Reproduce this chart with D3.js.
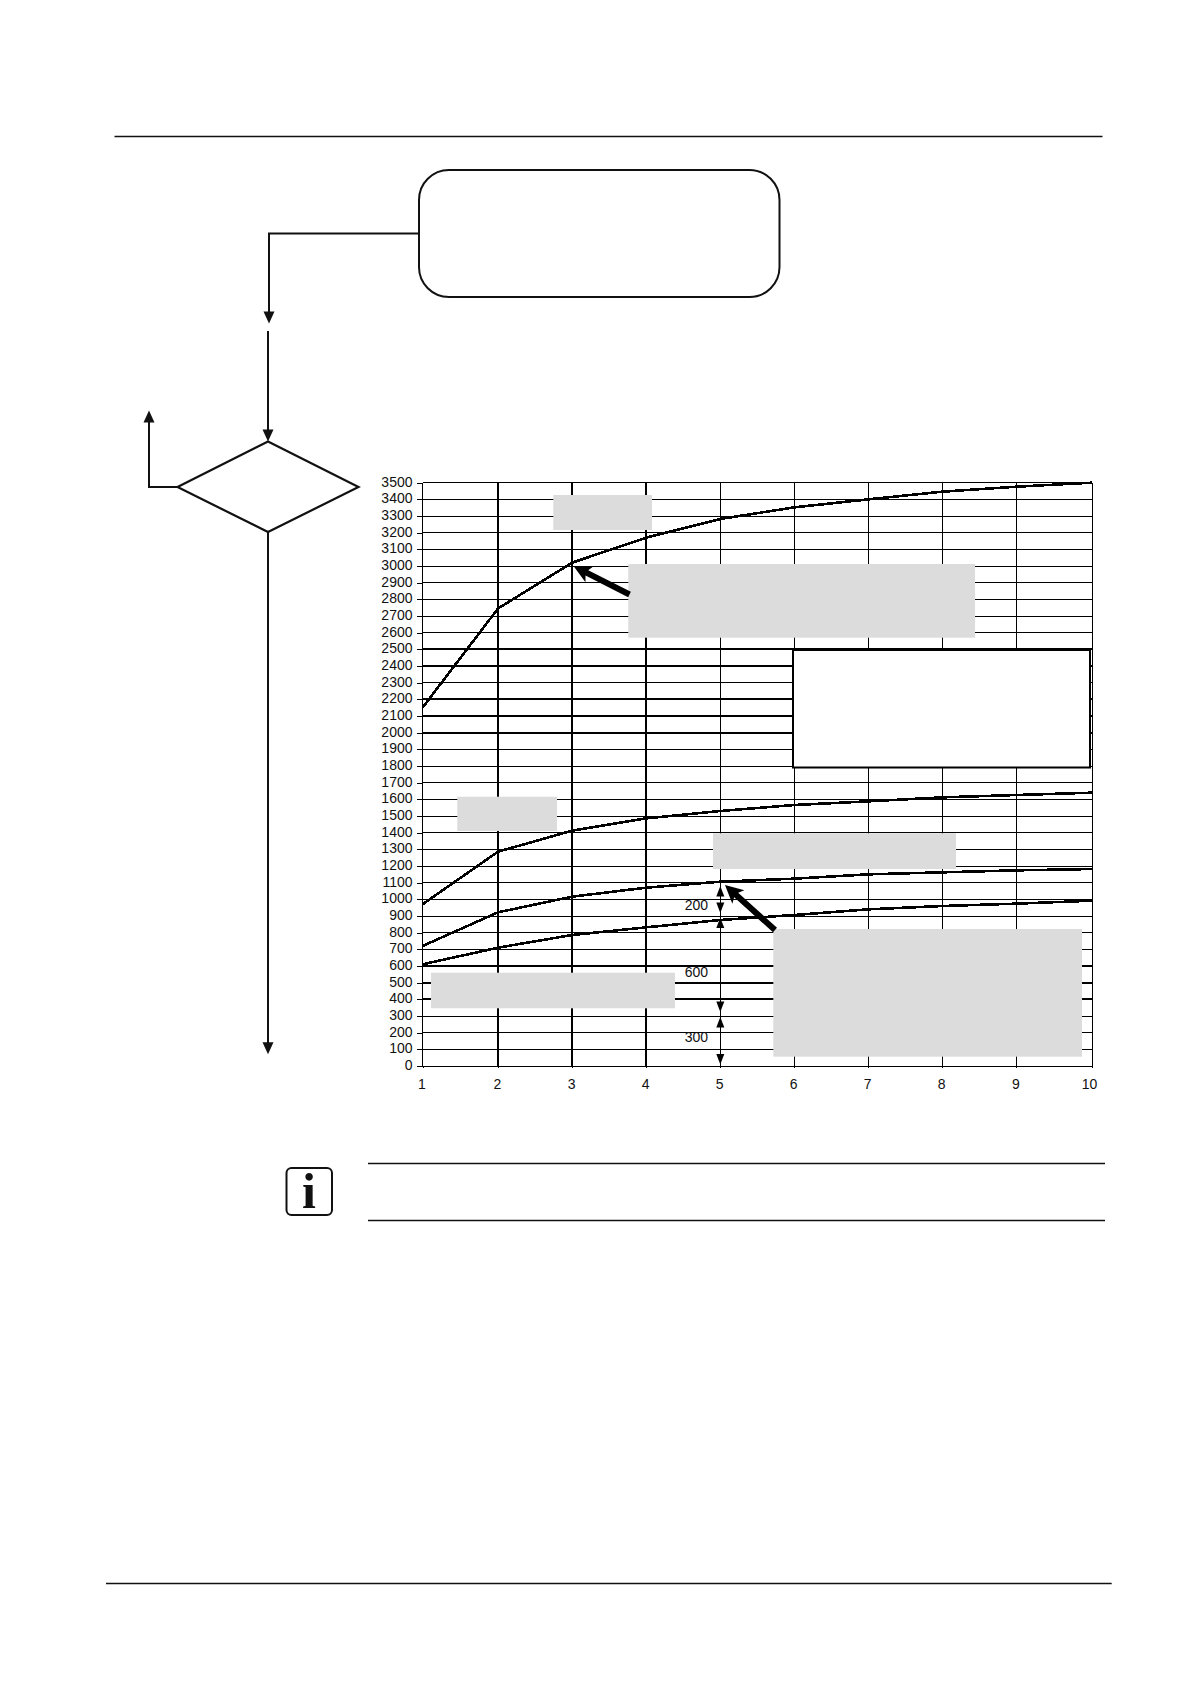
<!DOCTYPE html>
<html>
<head>
<meta charset="utf-8">
<script src="https://cdn.jsdelivr.net/npm/d3@7"></script>
<style>
  html, body { margin: 0; padding: 0; background: #fff; }
  svg { display: block; }
  text { font-family: "Liberation Sans", Arial, sans-serif; fill: #111; }
</style>
</head>
<body>
<div id="chart"></div>
<script>
// Values
const xValues = [1, 2, 3, 4, 5, 6, 7, 8, 9, 10];
const curveA = [2150, 2745, 3020, 3170, 3282, 3352, 3400, 3446, 3476, 3500];
const curveB = [970, 1286, 1412, 1486, 1530, 1566, 1588, 1612, 1626, 1640];
const curveC = [720, 922, 1016, 1070, 1106, 1124, 1150, 1162, 1174, 1182];
const curveD = [610, 710, 786, 832, 876, 906, 940, 960, 974, 992];
const curves = [curveA, curveB, curveC, curveD];

const yTicks = d3.range(0, 3600, 100);
const heavyY = [2500, 2400, 2200, 2100, 2000, 600, 500, 400];
const heavyX = [2, 3, 4];

const spanLabels = ["200", "600", "300"];
const spanLabelY = [956, 556, 168];

const width = 1190;
const height = 1684;
const plot = { left: 422.5, right: 1092, top: 482.7, bottom: 1066 };
const ink = "#111";

const svg = d3.select("#chart")
    .append("svg")
    .attr("width", width)
    .attr("height", height);

// piecewise because the first and last columns are a little wider in the source
const x = d3.scaleLinear()
    .domain([1, 2, 9, 10])
    .range([plot.left, 498, 1016.3, plot.right]);

const y = d3.scaleLinear()
    .domain([0, 3500])
    .range([plot.bottom, plot.top]);

// page rules
const rules = [
    [114.5, 136.5, 1102.5, 136.5],
    [368, 1163.5, 1105, 1163.5],
    [368, 1220.5, 1105, 1220.5],
    [106, 1583.5, 1111.7, 1583.5]
];
svg.append("g").selectAll("line")
    .data(rules)
    .enter().append("line")
    .attr("x1", d => d[0])
    .attr("y1", d => d[1])
    .attr("x2", d => d[2])
    .attr("y2", d => d[3])
    .attr("stroke", ink)
    .attr("stroke-width", 1.3);

// flow chart
const flow = svg.append("g");

flow.append("rect")
    .attr("x", 419)
    .attr("y", 170)
    .attr("width", 360.5)
    .attr("height", 127)
    .attr("rx", 30)
    .attr("fill", "#fff")
    .attr("stroke", ink)
    .attr("stroke-width", 2);

flow.append("path")
    .attr("d", "M268,441.5L358.5,487L268,532L177.5,487Z")
    .attr("fill", "#fff")
    .attr("stroke", ink)
    .attr("stroke-width", 2.2);

const flowLines = [
    "M419,233.5H269V315",
    "M268,331V432",
    "M177.5,487H149V420",
    "M268,532V1045"
];
flow.selectAll(".flow-line")
    .data(flowLines)
    .enter().append("path")
    .attr("class", "flow-line")
    .attr("d", d => d)
    .attr("fill", "none")
    .attr("stroke", ink)
    .attr("stroke-width", 2);

const flowHeads = [
    [269, 323.5, 180],
    [268, 441.5, 180],
    [149, 410.5, 0],
    [268, 1054.3, 180]
];
flow.selectAll(".flow-head")
    .data(flowHeads)
    .enter().append("path")
    .attr("class", "flow-head")
    .attr("d", "M0,0L5.5,12L-5.5,12Z")
    .attr("transform", d => `translate(${d[0]},${d[1]}) rotate(${d[2]})`)
    .attr("fill", ink);

// grid
const grid = svg.append("g").attr("shape-rendering", "crispEdges");

grid.selectAll(".grid-y")
    .data(yTicks)
    .enter().append("line")
    .attr("class", "grid-y")
    .attr("x1", plot.left)
    .attr("x2", plot.right)
    .attr("y1", d => y(d))
    .attr("y2", d => y(d))
    .attr("stroke", "#000")
    .attr("stroke-width", d => heavyY.includes(d) ? 2 : 1);

grid.selectAll(".grid-x")
    .data(xValues)
    .enter().append("line")
    .attr("class", "grid-x")
    .attr("x1", d => x(d))
    .attr("x2", d => x(d))
    .attr("y1", plot.top)
    .attr("y2", plot.bottom)
    .attr("stroke", "#000")
    .attr("stroke-width", d => heavyX.includes(d) ? 2 : 1);

// axes
const yAxis = d3.axisLeft(y)
    .tickValues(yTicks)
    .tickFormat(d => d)
    .tickSize(6)
    .tickPadding(4);

const xAxis = d3.axisBottom(x)
    .tickValues(xValues)
    .tickFormat(d => d)
    .tickSize(2)
    .tickPadding(11);

const gy = svg.append("g")
    .attr("transform", `translate(${plot.left},0)`)
    .call(yAxis);
const gx = svg.append("g")
    .attr("transform", `translate(0,${plot.bottom})`)
    .call(xAxis);

[gy, gx].forEach(g => {
    g.select(".domain").remove();
    g.selectAll("line").attr("stroke", "#000").attr("shape-rendering", "crispEdges");
    g.selectAll("text")
        .attr("font-size", 14)
        .attr("font-family", "Liberation Sans")
        .attr("fill", "#222");
});
gy.selectAll("text").attr("dy", "0.24em");
gx.selectAll("text").attr("dx", d => d === 10 ? -3 : -1);

// curves
const line = d3.line()
    .x((d, i) => x(xValues[i]))
    .y(d => y(d));

svg.append("g").selectAll("path")
    .data(curves)
    .enter().append("path")
    .attr("d", line)
    .attr("fill", "none")
    .attr("stroke", "#000")
    .attr("stroke-width", 2.6)
    .attr("shape-rendering", "crispEdges");

// covered call-outs
const greyBoxes = [
    [553.3, 495, 98.7, 35],
    [628.3, 564, 346.7, 73.7],
    [457.3, 796.7, 99.7, 34.3],
    [713, 833.3, 243, 35.7],
    [431, 972.7, 244, 35.6],
    [773.3, 929, 308.7, 127.7]
];
svg.append("g").selectAll("rect")
    .data(greyBoxes)
    .enter().append("rect")
    .attr("x", d => d[0])
    .attr("y", d => d[1])
    .attr("width", d => d[2])
    .attr("height", d => d[3])
    .attr("fill", "#dcdcdc");

svg.append("rect")
    .attr("x", 793)
    .attr("y", 650)
    .attr("width", 297)
    .attr("height", 117.5)
    .attr("fill", "#fff")
    .attr("stroke", "#000")
    .attr("stroke-width", 2);

// the two thick pointers
const pointers = [
    [629.5, 594.5, 573.5, 566],
    [775, 930, 725, 885]
];
const pointerG = svg.append("g").selectAll("g")
    .data(pointers)
    .enter().append("g")
    .attr("transform", d => {
        const angle = Math.atan2(d[3] - d[1], d[2] - d[0]) * 180 / Math.PI;
        return `translate(${d[2]},${d[3]}) rotate(${angle})`;
    });
pointerG.append("path")
    .attr("d", d => {
        const len = Math.hypot(d[2] - d[0], d[3] - d[1]);
        return `M0,0L-18,9L-15,3L${-len},3L${-len},-3L-15,-3L-18,-9Z`;
    })
    .attr("fill", "#000");

// span markers on the x=5 line
const spanHeads = [
    [720.3, 886, 0],
    [720.3, 913, 180],
    [720.3, 917.5, 0],
    [720.3, 1012, 180],
    [720.3, 1017, 0],
    [720.3, 1064.5, 180]
];
svg.append("g").selectAll("path")
    .data(spanHeads)
    .enter().append("path")
    .attr("d", "M0,0L4,10.5L-4,10.5Z")
    .attr("transform", d => `translate(${d[0]},${d[1]}) rotate(${d[2]})`)
    .attr("fill", "#000");

svg.append("g").selectAll("text")
    .data(spanLabels)
    .enter().append("text")
    .attr("x", 708)
    .attr("y", (d, i) => y(spanLabelY[i]))
    .attr("text-anchor", "end")
    .attr("dominant-baseline", "middle")
    .attr("font-size", 14)
    .text(d => d);

// info icon
svg.append("rect")
    .attr("x", 286.5)
    .attr("y", 1168)
    .attr("width", 45.5)
    .attr("height", 47)
    .attr("rx", 5)
    .attr("fill", "#fff")
    .attr("stroke", ink)
    .attr("stroke-width", 2);

svg.append("text")
    .attr("x", 309)
    .attr("y", 1208)
    .attr("text-anchor", "middle")
    .attr("font-weight", "bold")
    .attr("font-size", 50)
    .style("font-family", "Liberation Serif")
    .text("i");
</script>
</body>
</html>
